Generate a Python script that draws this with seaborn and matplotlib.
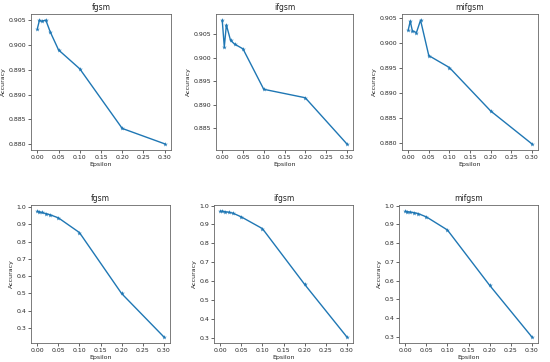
import matplotlib
matplotlib.use("Agg")
import matplotlib.pyplot as plt
import seaborn as sns
import pandas as pd

epsilon = [0.0, 0.005, 0.01, 0.02, 0.03, 0.05, 0.1, 0.2, 0.3]

top_fgsm = [0.9033, 0.9050, 0.9048, 0.9050, 0.9027, 0.8990, 0.8952, 0.8832, 0.8801]
top_ifgsm = [0.9080, 0.9023, 0.9070, 0.9037, 0.9029, 0.9019, 0.8933, 0.8915, 0.8817]
top_mifgsm = [0.9026, 0.9044, 0.9025, 0.9021, 0.9046, 0.8975, 0.8951, 0.8864, 0.8798]

bot_fgsm = [0.975, 0.972, 0.968, 0.962, 0.955, 0.937, 0.852, 0.500, 0.250]
bot_ifgsm = [0.970, 0.970, 0.968, 0.965, 0.960, 0.940, 0.878, 0.583, 0.305]
bot_mifgsm = [0.970, 0.968, 0.966, 0.963, 0.958, 0.940, 0.870, 0.575, 0.300]

titles = ["fgsm", "ifgsm", "mifgsm"]

sns.set_style("ticks")
plt.rcParams['font.family'] = ['DejaVu Sans']
W, H = 550, 362
fig = plt.figure(figsize=(W / 100, H / 100), dpi=100)

def px(l, t, r, b):
    return [l / W, 1 - b / H, (r - l) / W, (b - t) / H]

boxes = [
    (31, 14, 171, 150), (216, 14, 353, 150), (402, 14, 538, 150),
    (31, 205, 170, 343), (214, 205, 353, 343), (399, 205, 538, 343),
]
series = [top_fgsm, top_ifgsm, top_mifgsm, bot_fgsm, bot_ifgsm, bot_mifgsm]

for i, (box, ys) in enumerate(zip(boxes, series)):
    ax = fig.add_axes(px(*box))
    df = pd.DataFrame({"Epsilon": epsilon, "Accuracy": ys})
    sns.lineplot(data=df, x="Epsilon", y="Accuracy", ax=ax, color="#1f77b4",
                 marker="*", markersize=3.5, markeredgewidth=0, linewidth=1)
    ax.set_title(titles[i % 3], fontsize=5.5, pad=3)
    ax.set_xlabel("Epsilon", fontsize=4.5, labelpad=1.5)
    ax.set_ylabel("Accuracy", fontsize=4.5, labelpad=1.5)
    ax.set_xticks([0.0, 0.05, 0.1, 0.15, 0.2, 0.25, 0.3])
    ax.tick_params(labelsize=4.5, length=2, width=0.5, pad=1.5)
    for s in ax.spines.values():
        s.set_linewidth(0.6)
        s.set_color("#666666")
    if i < 3:
        ax.yaxis.set_major_formatter(matplotlib.ticker.FormatStrFormatter("%.3f"))
    else:
        ax.set_yticks([0.3, 0.4, 0.5, 0.6, 0.7, 0.8, 0.9, 1.0])
        ax.yaxis.set_major_formatter(matplotlib.ticker.FormatStrFormatter("%.1f"))

fig.savefig("out.png", dpi=100)
